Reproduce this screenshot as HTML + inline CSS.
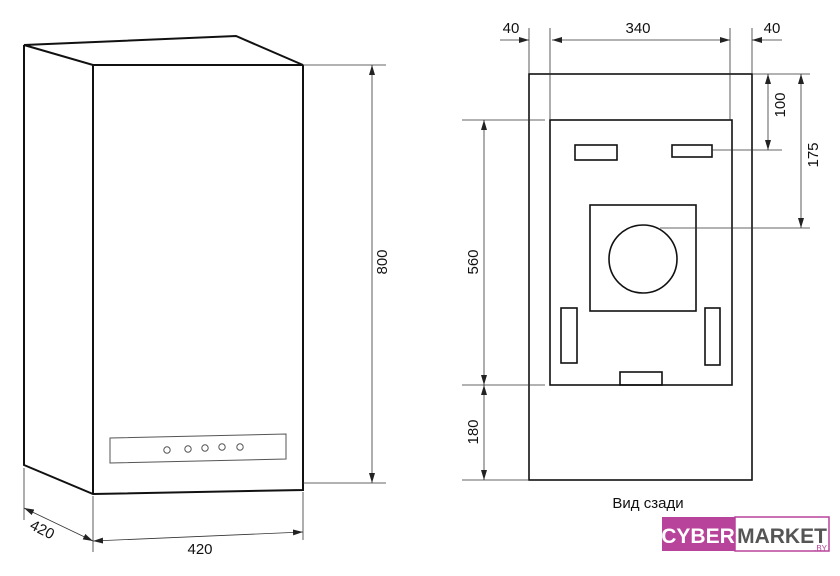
<!DOCTYPE html>
<html><head><meta charset="utf-8"><style>
html,body{margin:0;padding:0;background:#fff;}
svg{display:block;font-family:"Liberation Sans",sans-serif;}
</style></head><body>
<svg width="840" height="576" viewBox="0 0 840 576" xmlns="http://www.w3.org/2000/svg">
<defs>
<marker id="a" markerWidth="10" markerHeight="6" refX="10" refY="3" orient="auto-start-reverse" markerUnits="userSpaceOnUse"><path d="M0,0 L10,3 L0,6 z" fill="#222"/></marker>
</defs>
<g fill="none" stroke="#111" stroke-width="2">
<polygon points="24,45 236,36 303,65 93,65"/>
<polyline points="24,45 24,465 93,494 303,490 303,65"/>
<line x1="93" y1="65" x2="93" y2="494"/>
</g>
<g fill="none" stroke="#555" stroke-width="1">
<polygon points="110,438 286,434 286,459 110,463"/>
<circle cx="167" cy="450" r="3.2"/><circle cx="188" cy="449" r="3.2"/><circle cx="205" cy="448" r="3.2"/><circle cx="222" cy="447" r="3.2"/><circle cx="240" cy="447" r="3.2"/>
</g>
<g stroke="#333" stroke-width="0.8" fill="none">
<line x1="303" y1="65" x2="386" y2="65"/><line x1="303" y1="483" x2="386" y2="483"/>
<line x1="372" y1="65" x2="372" y2="483" marker-start="url(#a)" marker-end="url(#a)"/>
<line x1="93" y1="496" x2="93" y2="552"/><line x1="303" y1="492" x2="303" y2="540"/>
<line x1="93" y1="541" x2="303" y2="532" marker-start="url(#a)" marker-end="url(#a)"/>
<line x1="24" y1="468" x2="24" y2="520"/>
<line x1="24" y1="508" x2="93" y2="541" marker-start="url(#a)" marker-end="url(#a)"/>
</g>
<g font-size="15" fill="#111">
<text x="200" y="554" text-anchor="middle">420</text>
<text transform="translate(40,534) rotate(27)" text-anchor="middle">420</text>
<text transform="translate(387,262) rotate(-90)" text-anchor="middle">800</text>
</g>
<g fill="none" stroke="#111" stroke-width="1.6">
<rect x="529" y="74" width="223" height="406"/>
<rect x="550" y="120" width="182" height="265"/>
<rect x="575" y="145" width="42" height="15"/>
<rect x="672" y="145" width="40" height="12"/>
<rect x="590" y="205" width="106" height="106"/>
<circle cx="643" cy="259" r="34"/>
<rect x="561" y="308" width="16" height="55"/>
<rect x="705" y="308" width="15" height="57"/>
<rect x="620" y="372" width="42" height="13"/>
</g>
<g stroke="#333" stroke-width="0.8" fill="none">
<line x1="529" y1="28" x2="529" y2="74"/><line x1="550" y1="28" x2="550" y2="120"/>
<line x1="730" y1="28" x2="730" y2="120"/><line x1="752" y1="28" x2="752" y2="74"/>
<line x1="552" y1="40" x2="730" y2="40" marker-start="url(#a)" marker-end="url(#a)"/>
<line x1="500" y1="40" x2="529" y2="40" marker-end="url(#a)"/>
<line x1="782" y1="40" x2="752" y2="40" marker-end="url(#a)"/>
<line x1="752" y1="74" x2="810" y2="74"/><line x1="712" y1="150" x2="782" y2="150"/><line x1="660" y1="228" x2="810" y2="228"/>
<line x1="768" y1="74" x2="768" y2="150" marker-start="url(#a)" marker-end="url(#a)"/>
<line x1="801" y1="74" x2="801" y2="228" marker-start="url(#a)" marker-end="url(#a)"/>
<line x1="462" y1="120" x2="545" y2="120"/><line x1="462" y1="385" x2="545" y2="385"/><line x1="462" y1="480" x2="529" y2="480"/>
<line x1="484" y1="120" x2="484" y2="385" marker-start="url(#a)" marker-end="url(#a)"/>
<line x1="484" y1="385" x2="484" y2="480" marker-start="url(#a)" marker-end="url(#a)"/>
</g>
<g font-size="15" fill="#111">
<text x="638" y="33" text-anchor="middle">340</text>
<text x="511" y="33" text-anchor="middle">40</text>
<text x="772" y="33" text-anchor="middle">40</text>
<text transform="translate(785,105) rotate(-90)" text-anchor="middle">100</text>
<text transform="translate(818,155) rotate(-90)" text-anchor="middle">175</text>
<text transform="translate(478,262) rotate(-90)" text-anchor="middle">560</text>
<text transform="translate(478,432) rotate(-90)" text-anchor="middle">180</text>
<text x="648" y="508" text-anchor="middle">Вид сзади</text>
</g>
<rect x="662" y="517" width="73" height="34" fill="#b8439a"/>
<rect x="735" y="517" width="94" height="34" fill="#fff" stroke="#b8439a" stroke-width="1.5"/>
<text x="698" y="543" font-size="21" font-weight="bold" fill="#fff" text-anchor="middle">CYBER</text>
<text x="782" y="543" font-size="21" font-weight="bold" fill="#555" text-anchor="middle">MARKET</text>
<text x="827" y="551" font-size="8" fill="#b8439a" text-anchor="end">.BY</text>
</svg>
</body></html>
